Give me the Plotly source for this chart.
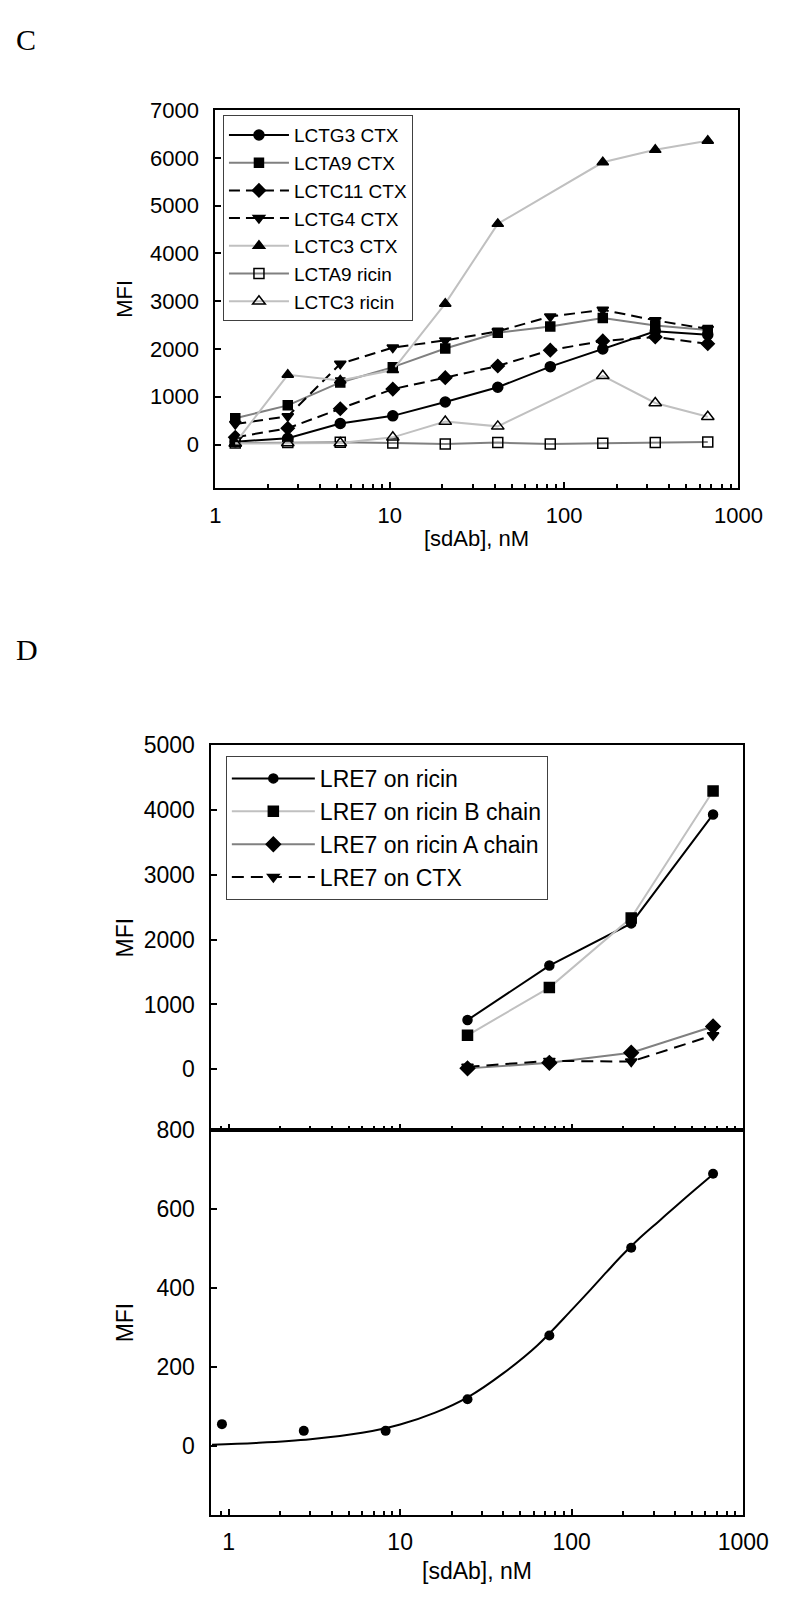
import plotly.graph_objects as go

# ---------------- data: panel C ----------------
conc_c = [1.302, 2.604, 5.208, 10.42, 20.83, 41.67, 83.33, 166.7, 333.3, 666.7]
lctg3_ctx = [60, 130, 440, 600, 890, 1200, 1630, 2000, 2370, 2300]
lcta9_ctx = [550, 820, 1300, 1620, 2010, 2340, 2470, 2650, 2490, 2400]
lctc11_ctx = [150, 340, 750, 1160, 1400, 1645, 1975, 2170, 2250, 2110]
lctg4_ctx = [430, 590, 1690, 2030, 2180, 2370, 2680, 2820, 2600, 2420]
lctc3_ctx = [30, 1460, 1340, 1560, 2950, 4620, None, 5910, 6170, 6360]
lcta9_ricin = [30, 40, 50, 30, 10, 40, 10, 25, 40, 55]
lctc3_ricin = [20, 30, 30, 150, 480, 380, None, 1440, 870, 580]

# ---------------- data: panel D (top) ----------------
conc_d = [24.69, 74.07, 222.2, 666.7]
lre7_ricin = [760, 1600, 2250, 3930]
lre7_ricin_b = [525, 1260, 2335, 4290]
lre7_ricin_a = [15, 100, 255, 660]
lre7_ctx = [40, 130, 120, 525]

# ---------------- data: panel D (bottom) ----------------
conc_low = [0.9145, 2.743, 8.230, 24.69, 74.07, 222.2, 666.7]
mfi_low = [56, 39, 39, 119, 280, 502, 689]
fit_x = [0.8, 1.5, 3, 6, 10, 16, 25, 40, 63, 100, 130, 160, 200, 250, 320, 400, 520, 667]
fit_y = [4, 9, 18, 34, 55, 85, 125, 185, 255, 345, 398, 441, 486, 527, 568, 605, 648, 688]

W, H = 800, 1603
FONT = "Arial, Liberation Sans, sans-serif"
SERIF = "Times New Roman, Liberation Serif, serif"

def px_x(p):
    return p / W

def px_y(p):
    return 1 - p / H

BLACK = "#000000"
GRAY = "#808080"
LGRAY = "#c0c0c0"

fig = go.Figure()

def add(x, y, name, color, dash, symbol, size, xa, ya, legend, width=2):
    fig.add_trace(go.Scatter(
        x=x, y=y, name=name, mode="lines+markers", connectgaps=True,
        line=dict(color=color, width=width, dash=dash),
        marker=dict(symbol=symbol, size=size, color=BLACK,
                    line=dict(color=BLACK, width=1.5)),
        xaxis=xa, yaxis=ya, legend=legend,
    ))

# Panel C
add(conc_c, lctg3_ctx, "LCTG3 CTX", BLACK, "solid", "circle", 10, "x", "y", "legend")
add(conc_c, lcta9_ctx, "LCTA9 CTX", GRAY, "solid", "square", 9, "x", "y", "legend")
add(conc_c, lctc11_ctx, "LCTC11 CTX", BLACK, "11px,6px", "diamond", 10, "x", "y", "legend")
add(conc_c, lctg4_ctx, "LCTG4 CTX", BLACK, "11px,6px", "triangle-down", 10, "x", "y", "legend")
add(conc_c, lctc3_ctx, "LCTC3 CTX", LGRAY, "solid", "triangle-up", 10, "x", "y", "legend")
add(conc_c, lcta9_ricin, "LCTA9 ricin", GRAY, "solid", "square-open", 10, "x", "y", "legend")
add(conc_c, lctc3_ricin, "LCTC3 ricin", LGRAY, "solid", "triangle-up-open", 11, "x", "y", "legend")

# Panel D top
add(conc_d, lre7_ricin, "LRE7 on ricin", BLACK, "solid", "circle", 9, "x2", "y2", "legend2")
add(conc_d, lre7_ricin_b, "LRE7 on ricin B chain", LGRAY, "solid", "square", 10, "x2", "y2", "legend2")
add(conc_d, lre7_ricin_a, "LRE7 on ricin A chain", GRAY, "solid", "diamond", 11, "x2", "y2", "legend2")
add(conc_d, lre7_ctx, "LRE7 on CTX", BLACK, "12px,7px", "triangle-down", 10, "x2", "y2", "legend2")

# Panel D bottom
fig.add_trace(go.Scatter(x=fit_x, y=fit_y, mode="lines", line=dict(color=BLACK, width=2, shape="spline", smoothing=1.0),
                         xaxis="x3", yaxis="y3", showlegend=False))
fig.add_trace(go.Scatter(x=conc_low, y=mfi_low, mode="markers",
                         marker=dict(symbol="circle", size=10, color=BLACK),
                         xaxis="x3", yaxis="y3", showlegend=False))

def xaxis(domain, rng, labels=True, anchor="y", tick_font=22):
    return dict(type="log", domain=domain, range=rng, anchor=anchor,
                showline=True, linecolor=BLACK, linewidth=2, mirror=True,
                ticks="inside", ticklen=6, tickwidth=1.5, tickcolor=BLACK,
                dtick=1, showgrid=False, zeroline=False,
                showticklabels=labels, ticklabelstandoff=6,
                tickfont=dict(family=FONT, size=tick_font, color=BLACK),
                minor=dict(ticks="inside", ticklen=4, tickwidth=1.5, tickcolor=BLACK, showgrid=False))

def yaxis(domain, rng, anchor, tickvals, tick_font=22):
    return dict(domain=domain, range=rng, anchor=anchor,
                showline=True, linecolor=BLACK, linewidth=2, mirror=True,
                ticks="inside", ticklen=6, tickwidth=1.5, tickcolor=BLACK,
                tickmode="array", tickvals=tickvals,
                showgrid=False, zeroline=False, ticklabelstandoff=10,
                tickfont=dict(family=FONT, size=tick_font, color=BLACK))

c_xdom = [px_x(218), px_x(763)]
c_ydom = [px_y(479), px_y(98)]
d_xdom = [px_x(214), px_x(768)]
d_top = [px_y(1126), px_y(738)]
d_bot = [px_y(1514), px_y(1126)]

fig.update_layout(
    width=W, height=H,
    margin=dict(l=0, r=0, t=0, b=0),
    paper_bgcolor="white", plot_bgcolor="white",
    font=dict(family=FONT, color=BLACK),
    xaxis=xaxis(c_xdom, [0, 3], anchor="y"),
    yaxis=yaxis(c_ydom, [-913, 7000], "x", [0, 1000, 2000, 3000, 4000, 5000, 6000, 7000]),
    xaxis2=xaxis(d_xdom, [-0.1, 3], labels=False, anchor="y2", tick_font=23),
    yaxis2=yaxis(d_top, [-933, 5000], "x2", [0, 1000, 2000, 3000, 4000, 5000], tick_font=23),
    xaxis3=xaxis(d_xdom, [-0.1, 3], anchor="y3", tick_font=23),
    yaxis3=yaxis(d_bot, [-173, 800], "x3", [0, 200, 400, 600, 800], tick_font=23),
    legend=dict(x=px_x(226), y=px_y(103), xanchor="left", yanchor="top",
                bgcolor="white", bordercolor="#404040", borderwidth=1,
                font=dict(family=FONT, size=19, color=BLACK),
                itemwidth=60, tracegroupgap=0),
    legend2=dict(x=px_x(229), y=px_y(749), xanchor="left", yanchor="top",
                 bgcolor="white", bordercolor="#404040", borderwidth=1,
                 font=dict(family=FONT, size=23, color=BLACK),
                 itemwidth=83, tracegroupgap=0),
    showlegend=True,
)

ann = [
    dict(text="C", x=px_x(8), y=px_y(27), xanchor="left", yanchor="middle",
         font=dict(family=SERIF, size=30, color=BLACK)),
    dict(text="D", x=px_x(8), y=px_y(642), xanchor="left", yanchor="middle",
         font=dict(family=SERIF, size=30, color=BLACK)),
    dict(text="MFI", x=px_x(124), y=px_y(288), textangle=-90, xanchor="center", yanchor="middle",
         font=dict(family=FONT, size=22, color=BLACK)),
    dict(text="[sdAb], nM", x=px_x(490), y=px_y(530), xanchor="center", yanchor="middle",
         font=dict(family=FONT, size=22, color=BLACK)),
    dict(text="MFI", x=px_x(124), y=px_y(932), textangle=-90, xanchor="center", yanchor="middle",
         font=dict(family=FONT, size=23, color=BLACK)),
    dict(text="MFI", x=px_x(124), y=px_y(1320), textangle=-90, xanchor="center", yanchor="middle",
         font=dict(family=FONT, size=23, color=BLACK)),
    dict(text="[sdAb], nM", x=px_x(491), y=px_y(1571), xanchor="center", yanchor="middle",
         font=dict(family=FONT, size=23, color=BLACK)),
]
for a in ann:
    a.update(xref="paper", yref="paper", showarrow=False)
fig.update_layout(annotations=ann)

fig.write_html("out.html", config={"displayModeBar": False},
               post_script="document.body.style.margin='0';document.body.style.padding='0';")
